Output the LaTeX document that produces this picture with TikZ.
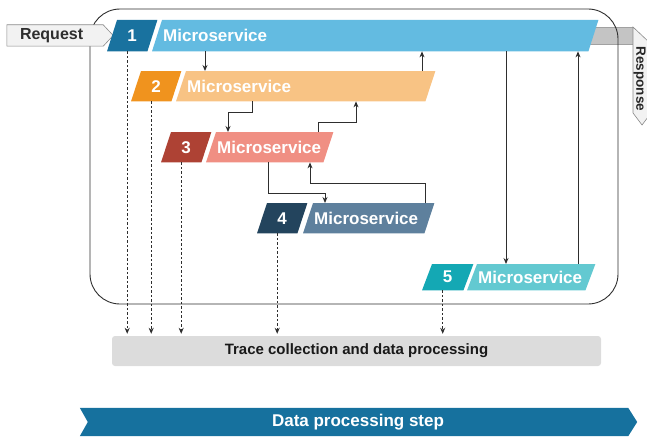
\documentclass[tikz,border=0pt]{standalone}
\usepackage{fontspec}
\setmainfont{Liberation Sans}
\usetikzlibrary{arrows.meta}
\pgfdeclarelayer{back}
\pgfdeclarelayer{bg}
\pgfsetlayers{back,bg,main}

\definecolor{oneD}{HTML}{19729F}
\definecolor{oneL}{HTML}{63BBE1}
\definecolor{twoD}{HTML}{F0931E}
\definecolor{twoL}{HTML}{F8C384}
\definecolor{threeD}{HTML}{AE4234}
\definecolor{threeL}{HTML}{F08F83}
\definecolor{fourD}{HTML}{23445D}
\definecolor{fourL}{HTML}{5E809D}
\definecolor{fiveD}{HTML}{14A8B4}
\definecolor{fiveL}{HTML}{63C9D1}
\definecolor{stepC}{HTML}{16719E}
\definecolor{lineC}{HTML}{2E2E2E}
\definecolor{paleC}{HTML}{F2F2F2}
\definecolor{edgeC}{HTML}{8A8A8A}
\definecolor{bandC}{HTML}{C4C4C4}
\definecolor{traceC}{HTML}{DCDCDC}

\tikzset{
  numbox/.style={minimum width=50pt, minimum height=30pt, inner sep=0pt,
    anchor=north west, text=white, font=\fontsize{17}{20}\selectfont\bfseries},
  msbox/.style={minimum height=30pt, inner ysep=0pt, inner xsep=11pt,
    anchor=north west, align=left, text=white,
    font=\fontsize{17}{20}\selectfont\bfseries},
  mw/.code={\pgfmathsetmacro\mstw{#1-22}\tikzset{minimum width=#1pt, text width=\mstw pt}},
  conn/.style={draw=lineC, line width=0.9pt, -{Stealth[length=6pt,width=5pt]}},
  tracearrow/.style={draw=lineC, line width=0.9pt, dash pattern=on 2.5pt off 2pt,
    -{Stealth[length=6pt,width=5pt]}, shorten >=2pt},
  frame/.style={draw=lineC, line width=0.9pt, rounded corners=30pt,
    minimum width=528pt, minimum height=295pt, inner sep=0pt},
}

\begin{document}
\begin{tikzpicture}[x=1pt, y=-1pt]
\useasboundingbox (0,0) rectangle (647,436);

% outer container
\begin{pgfonlayer}{bg}
  \node[frame] (frame) at (354,156.5) {};
\end{pgfonlayer}

% request / response labels
\node[minimum width=96pt, minimum height=21pt, inner ysep=0pt, inner xsep=13pt,
      text width=70pt, align=left, text=lineC,
      font=\fontsize{16}{19}\selectfont\bfseries] (req) at (55,35.5) {Request};
\node[rotate=-90, inner sep=1pt, text=black!85, font=\fontsize{13.5}{16}\selectfont\bfseries]
      (resp) at (639.5,79) {Response};

% services: number tag + service body
\node[numbox, minimum height=31pt] (n1) at (107,20) {1};
\node[msbox, mw=446, minimum height=31pt] (m1) at (152,20) {Microservice};
\node[numbox] (n2) at (131,71) {2};
\node[msbox, mw=259] (m2) at (176,71) {Microservice};
\node[numbox] (n3) at (161,132) {3};
\node[msbox, mw=127] (m3) at (206,132) {Microservice};
\node[numbox] (n4) at (257,203) {4};
\node[msbox, mw=131] (m4) at (303,203) {Microservice};
\node[numbox, minimum width=51pt, minimum height=26pt] (n5) at (422,264) {5};
\node[msbox, mw=128, minimum height=26pt] (m5) at (467,264) {Microservice};

% trace sink and processing step
\node[minimum width=489pt, minimum height=30pt, inner sep=0pt, rounded corners=3pt,
      fill=traceC, text=black!90, font=\fontsize{15}{18}\selectfont\bfseries]
      (trace) at (356.5,351) {Trace collection and data processing};
\node[minimum width=540pt, minimum height=28pt, inner sep=0pt, text=white,
      font=\fontsize{17}{20}\selectfont\bfseries] (dps) at (358,422) {Data processing step};

% response band and response arrow
\begin{pgfonlayer}{back}
  \begin{scope}
    \clip (0,0) rectangle (647,436);
    \filldraw[fill=bandC, draw=edgeC!80, line width=0.6pt] (585,27) -- (633,27) -- (633,44) -- (585,44) -- cycle;
    \filldraw[fill=paleC, draw=edgeC, line width=0.6pt]
      (633,27) -- (651,44) -- (651,113) -- (642,125) -- (633,113) -- cycle;
  \end{scope}
\end{pgfonlayer}

\begin{pgfonlayer}{bg}
  \filldraw[fill=paleC, draw=edgeC, line width=0.6pt]
    (req.north west) -- (req.north east) -- ([xshift=10pt]req.east)
    -- (req.south east) -- (req.south west) -- cycle;
  \foreach \nd/\col in {n1/oneD, m1/oneL, n2/twoD, m2/twoL, n3/threeD, m3/threeL,
                        n4/fourD, m4/fourL, n5/fiveD, m5/fiveL}{
    \fill[\col] ([xshift=10pt]\nd.north west) -- (\nd.north east)
      -- ([xshift=-10pt]\nd.south east) -- (\nd.south west) -- cycle;
  }
  \fill[stepC] ([xshift=-8pt]dps.north west) -- (dps.north east) -- ([xshift=9pt]dps.east)
    -- (dps.south east) -- ([xshift=-8pt]dps.south west) -- (dps.west) -- cycle;
\end{pgfonlayer}

% calls between services
\draw[conn] ([xshift=29pt]m2.north west |- m1.south) -- ([xshift=29pt]m2.north west);
\draw[conn] ([xshift=246pt]m2.north west) -- ([xshift=246pt]m2.north west |- m1.south);
\draw[conn] ([xshift=76pt]m2.south west) -- ++(0,11) -| ([xshift=22pt]m3.north west);
\draw[conn] ([xshift=112pt]m3.north west) -- ++(0,-10) -| ([xshift=180pt]m2.south west);
\draw[conn] ([xshift=62pt]m3.south west) -- ++(0,31) -| ([xshift=22pt]m4.north west);
\draw[conn] ([xshift=122pt]m4.north west) -- ++(0,-20) -| ([xshift=104pt]m3.south west);
\draw[conn] ([xshift=39pt]m5.north west |- m1.south) -- ([xshift=39pt]m5.north west);
\draw[conn] ([xshift=111pt]m5.north west) -- ([xshift=111pt]m5.north west |- m1.south);

% traces sent to the collector
\foreach \nd in {n1,n2,n3,n4,n5}{
  \draw[tracearrow] ([xshift=-5pt]\nd.south) -- ([xshift=-5pt]\nd.south |- trace.north);
}
\end{tikzpicture}
\end{document}
